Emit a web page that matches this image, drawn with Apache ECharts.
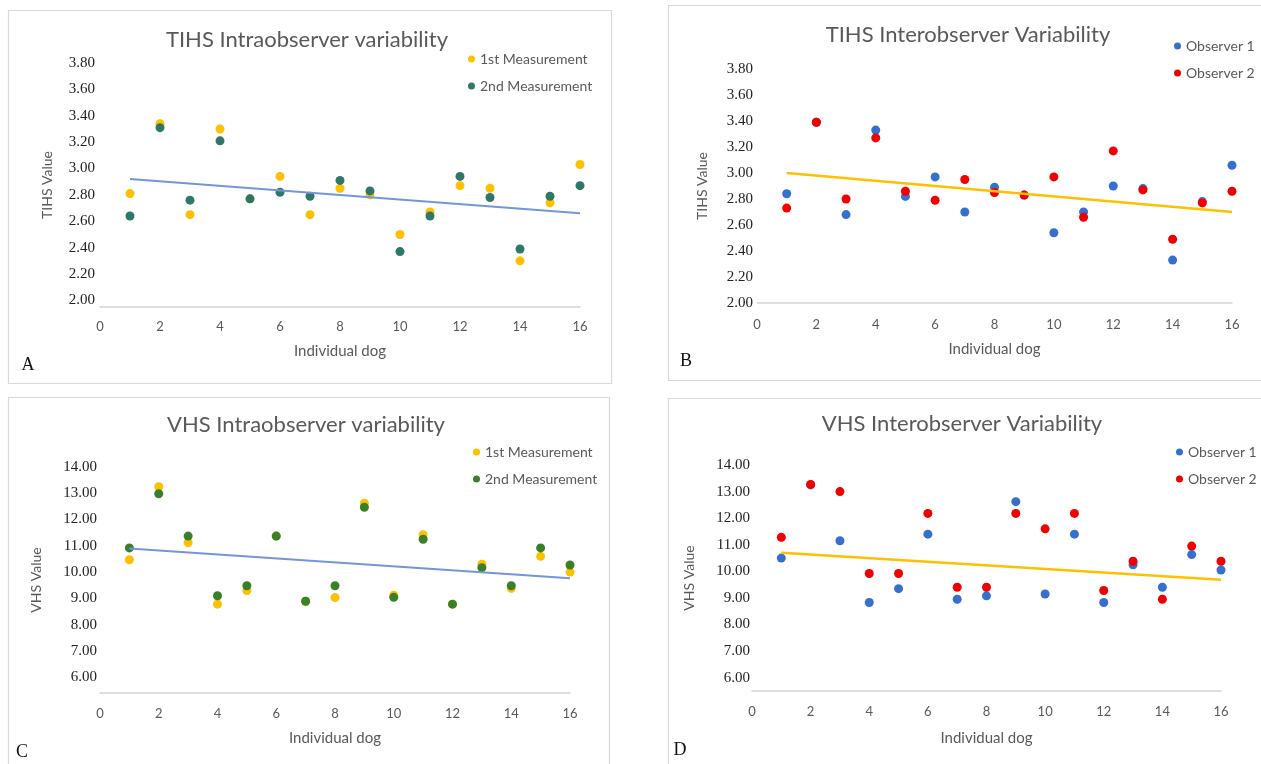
<!DOCTYPE html>
<html>
<head>
<meta charset="utf-8">
<script src="https://cdn.jsdelivr.net/npm/echarts@6/dist/echarts.min.js"></script>
<style>
html,body{margin:0;padding:0;background:#fff}
#chart{width:1261px;height:764px}
</style>
</head>
<body>
<div id="chart"></div>
<script>
// individual dogs (x values)
var dogs = [1, 2, 3, 4, 5, 6, 7, 8, 9, 10, 11, 12, 13, 14, 15, 16];

// A - TIHS intraobserver
var tihsIntra1 = [2.81, 3.34, 2.65, 3.30, 2.77, 2.94, 2.65, 2.85, 2.80, 2.50, 2.67, 2.87, 2.85, 2.30, 2.74, 3.03];
var tihsIntra2 = [2.64, 3.31, 2.76, 3.21, 2.77, 2.82, 2.79, 2.91, 2.83, 2.37, 2.64, 2.94, 2.78, 2.39, 2.79, 2.87];
// B - TIHS interobserver
var tihsObs1 = [2.84, 3.39, 2.68, 3.33, 2.82, 2.97, 2.70, 2.89, 2.83, 2.54, 2.70, 2.90, 2.88, 2.33, 2.78, 3.06];
var tihsObs2 = [2.73, 3.39, 2.80, 3.27, 2.86, 2.79, 2.95, 2.85, 2.83, 2.97, 2.66, 3.17, 2.87, 2.49, 2.77, 2.86];
// C - VHS intraobserver
var vhsIntra1 = [10.47, 13.25, 11.12, 8.78, 9.30, 11.37, 8.89, 9.03, 12.62, 9.12, 11.42, 8.78, 10.30, 9.38, 10.60, 10.00];
var vhsIntra2 = [10.92, 12.98, 11.37, 9.10, 9.48, 11.37, 8.89, 9.48, 12.47, 9.04, 11.25, 8.78, 10.17, 9.48, 10.92, 10.27];
// D - VHS interobserver
var vhsObs1 = [10.50, 13.25, 11.15, 8.83, 9.35, 11.40, 8.95, 9.08, 12.62, 9.15, 11.40, 8.83, 10.25, 9.40, 10.63, 10.05];
var vhsObs2 = [11.28, 13.27, 13.00, 9.92, 9.92, 12.18, 9.40, 9.40, 12.18, 11.60, 12.18, 9.28, 10.38, 8.95, 10.95, 10.38];

// linear trend lines (value at first and last dog)
var trendX = [1, 16];
var trendA = [2.92, 2.66];
var trendB = [3.00, 2.70];
var trendC = [10.90, 9.77];
var trendD = [10.70, 9.68];

// tick labels
var tihsTicks = [2.0, 2.2, 2.4, 2.6, 2.8, 3.0, 3.2, 3.4, 3.6, 3.8];
var vhsTicks = [6, 7, 8, 9, 10, 11, 12, 13, 14];

var gold = '#FFC000', teal = '#2F7769', green = '#3A7F2A', blue = '#3570CF', red = '#F00000', lightBlue = '#7396D8';
var grey = '#595959';

function pts(arr) {
    return dogs.map(function (d, i) { return [d, arr[i]]; });
}
function trend(arr) {
    return trendX.map(function (d, i) { return [d, arr[i]]; });
}

function xAx(grid, margin, gap) {
    return {
        type: 'value', gridIndex: grid, min: 0, max: 16, interval: 2,
        axisLine: { lineStyle: { color: '#d4d4d4', width: 1.5 } },
        axisTick: { show: false },
        splitLine: { show: false },
        axisLabel: { margin: margin, color: grey, fontFamily: 'Lato', fontSize: 13 },
        name: 'Individual dog', nameLocation: 'middle', nameGap: gap,
        nameTextStyle: { color: grey, fontFamily: 'Lato', fontSize: 15 }
    };
}
function yAx(grid, min, max, ticks, name, margin, gap) {
    return {
        type: 'value', gridIndex: grid, min: min, max: max,
        axisLine: { show: false },
        axisTick: { show: false },
        splitLine: { show: false },
        axisLabel: {
            customValues: ticks, margin: margin,
            formatter: function (v) { return v.toFixed(2); },
            color: '#222', fontFamily: 'Liberation Serif', fontSize: 15
        },
        name: name, nameLocation: 'middle', nameGap: gap,
        nameTextStyle: { color: grey, fontFamily: 'Lato', fontSize: 14 }
    };
}
function dots(name, idx, arr, color) {
    return {
        name: name, type: 'scatter', xAxisIndex: idx, yAxisIndex: idx,
        data: pts(arr), symbolSize: 9, itemStyle: { color: color, opacity: 1 }
    };
}
function line(idx, arr, color, w) {
    return {
        type: 'line', xAxisIndex: idx, yAxisIndex: idx, data: trend(arr),
        symbol: 'none', z: 3, lineStyle: { color: color, width: w }
    };
}
function ttl(text, cx, top) {
    return {
        text: text, left: cx - 5, top: top, textAlign: 'center',
        textStyle: { color: grey, fontFamily: 'Lato', fontSize: 22, fontWeight: 'normal' }
    };
}
function leg(left, top, items) {
    return {
        left: left, top: top, orient: 'vertical', itemGap: 13,
        icon: 'circle', itemWidth: 7, itemHeight: 7,
        textStyle: { color: grey, fontFamily: 'Lato', fontSize: 14 },
        data: items.map(function (it) { return { name: it[0], itemStyle: { color: it[1] } }; })
    };
}
function box(x, y, w, h) {
    return { type: 'rect', shape: { x: x, y: y, width: w, height: h },
        style: { fill: 'none', stroke: '#d9d9d9', lineWidth: 1.2 }, z: -1 };
}
function letter(t, x, y) {
    return { type: 'text', x: x, y: y,
        style: { text: t, fill: '#111', font: '18px "Liberation Serif"', textAlign: 'center', textVerticalAlign: 'middle', align: 'center', verticalAlign: 'middle' } };
}

var myChart = echarts.init(document.getElementById('chart'));
var option = {
    animation: false,
    title: [
        ttl('TIHS Intraobserver variability', 307, 24),
        ttl('TIHS Interobserver Variability', 968, 19),
        ttl('VHS Intraobserver variability', 306, 409),
        ttl('VHS Interobserver Variability', 962, 408)
    ],
    legend: [
        leg(463, 47, [['1st Measurement', gold], ['2nd Measurement', teal]]),
        leg(1169, 34, [['Observer 1', blue], ['Observer 2', red]]),
        leg(468, 440, [['1st Measurement', gold], ['2nd Measurement', green]]),
        leg(1171, 440, [['Observer 1', blue], ['Observer 2', red]])
    ],
    grid: [
        { left: 100, top: 63, width: 480, height: 244 },
        { left: 757, top: 69, width: 475, height: 234 },
        { left: 100, top: 467, width: 470, height: 226 },
        { left: 752, top: 465, width: 469, height: 226 }
    ],
    xAxis: [xAx(0, 13, 37), xAx(1, 15, 39), xAx(2, 14, 38), xAx(3, 14, 40)],
    yAxis: [
        yAx(0, 1.95, 3.8, tihsTicks, 'TIHS Value', 5, 46),
        yAx(1, 2.0, 3.8, tihsTicks, 'TIHS Value', 4, 48),
        yAx(2, 5.4, 14, vhsTicks, 'VHS Value', 3, 57),
        yAx(3, 5.5, 14, vhsTicks, 'VHS Value', 2, 56)
    ],
    graphic: [
        box(8.5, 10.5, 603, 373),
        box(668.5, 5.5, 600, 375),
        box(8.5, 397.5, 601, 380),
        box(668.5, 398.5, 600, 380),
        letter('A', 28, 365),
        letter('B', 686, 361),
        letter('C', 22, 752),
        letter('D', 680, 750)
    ],
    series: [
        dots('1st Measurement', 0, tihsIntra1, gold),
        dots('2nd Measurement', 0, tihsIntra2, teal),
        line(0, trendA, lightBlue, 2),
        dots('Observer 1', 1, tihsObs1, blue),
        dots('Observer 2', 1, tihsObs2, red),
        line(1, trendB, gold, 2.5),
        dots('1st Measurement', 2, vhsIntra1, gold),
        dots('2nd Measurement', 2, vhsIntra2, green),
        line(2, trendC, lightBlue, 2),
        dots('Observer 1', 3, vhsObs1, blue),
        dots('Observer 2', 3, vhsObs2, red),
        line(3, trendD, gold, 2.5)
    ]
};
myChart.setOption(option);
</script>
</body>
</html>
